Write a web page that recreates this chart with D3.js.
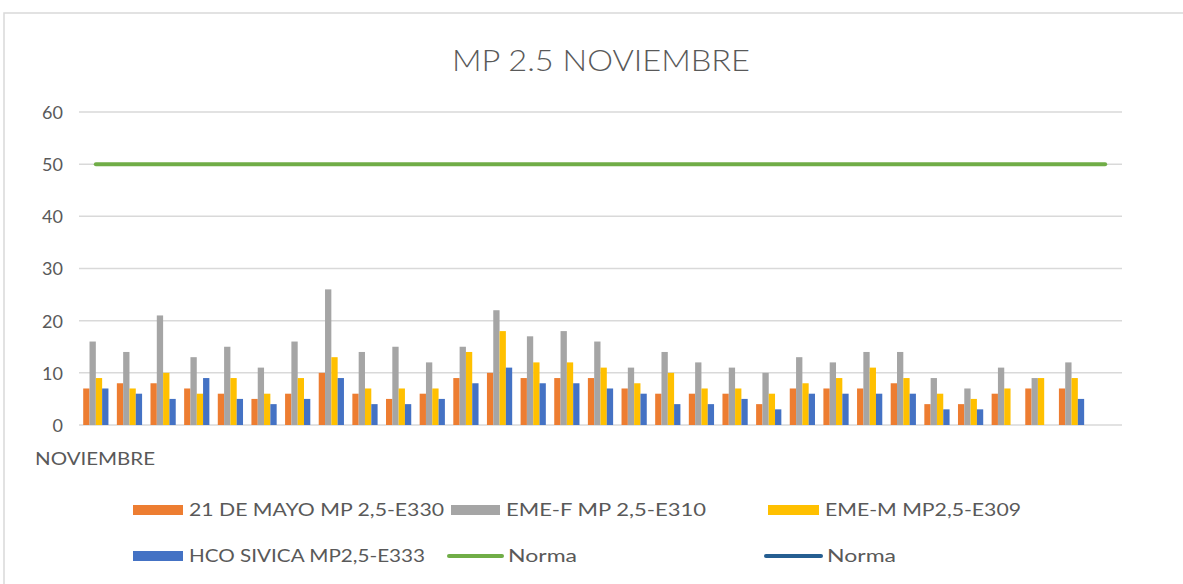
<!DOCTYPE html>
<html>
  <head>
    <meta charset="utf-8" />
    <script src="https://d3js.org/d3.v7.min.js"></script>
    <style>
        body {margin: 0; background: #fff;}
        text {font-family: Lato, "Open Sans", sans-serif;}
    </style>
  </head>
  <body>
    <svg id="viz"></svg>
    <script>
        var width = 1183
        var height = 584

        // days of november (31st slot is empty in the original sheet)
        var days = d3.range(1, 32)

        var mayo  = [7, 8, 8, 7, 6, 5, 6, 10, 6, 5, 6, 9, 10, 9, 9, 9, 7, 6, 6, 6, 4, 7, 7, 7, 8, 4, 4, 6, 7, 7, null]
        var emeF  = [16, 14, 21, 13, 15, 11, 16, 26, 14, 15, 12, 15, 22, 17, 18, 16, 11, 14, 12, 11, 10, 13, 12, 14, 14, 9, 7, 11, 9, 12, null]
        var emeM  = [9, 7, 10, 6, 9, 6, 9, 13, 7, 7, 7, 14, 18, 12, 12, 11, 8, 10, 7, 7, 6, 8, 9, 11, 9, 6, 5, 7, 9, 9, null]
        var sivica = [7, 6, 5, 9, 5, 4, 5, 9, 4, 4, 5, 8, 11, 8, 8, 7, 6, 4, 4, 5, 3, 6, 6, 6, 6, 3, 3, null, null, 5, null]
        var norma = 50

        var seriesNames = ["21 DE MAYO MP 2,5-E330", "EME-F  MP 2,5-E310", "EME-M MP2,5-E309", "HCO SIVICA MP2,5-E333"]
        var seriesColors = ["#ED7D31", "#A5A5A5", "#FFC000", "#4472C4"]
        var series = [mayo, emeF, emeM, sivica]
        var yTicks = [0, 10, 20, 30, 40, 50, 60]

        var svg = d3.select("#viz")
            .attr("width", width)
            .attr("height", height)

        // chart frame
        svg.append("rect")
            .attr("x", 4).attr("y", 13)
            .attr("width", width + 10).attr("height", height + 10)
            .attr("fill", "none")
            .attr("stroke", "#d9d9d9")
            .attr("stroke-width", 1.5)

        svg.append("text")
            .attr("x", 601).attr("y", 71)
            .attr("text-anchor", "middle")
            .attr("font-size", 30)
            .attr("font-weight", 300)
            .attr("fill", "#595959")
            .attr("textLength", 298)
            .attr("lengthAdjust", "spacingAndGlyphs")
            .text("MP 2.5 NOVIEMBRE")

        var plotLeft = 79, plotRight = 1122, plotTop = 112, plotBottom = 425

        var x = d3.scaleBand()
            .domain(days)
            .range([plotLeft, plotRight])
            .paddingInner(0.25)
            .paddingOuter(0.125)

        var xs = d3.scaleBand()
            .domain(d3.range(series.length))
            .range([0, x.bandwidth()])

        var y = d3.scaleLinear()
            .domain([0, 60])
            .range([plotBottom, plotTop])

        // gridlines
        svg.append("g").selectAll("line")
            .data(yTicks)
            .enter().append("line")
            .attr("x1", plotLeft).attr("x2", plotRight)
            .attr("y1", function(d) { return y(d) })
            .attr("y2", function(d) { return y(d) })
            .attr("stroke", "#d9d9d9")
            .attr("stroke-width", 1.5)

        var yAxis = svg.append("g")
            .attr("transform", "translate(" + (plotLeft - 16) + ",0)")
            .call(d3.axisLeft(y).tickValues(yTicks).tickSize(0).tickPadding(0))
        yAxis.select(".domain").remove()
        yAxis.selectAll("text")
            .attr("font-size", 18)
            .attr("fill", "#595959")
            .attr("dy", "0.36em")
            .style("font-family", "Lato, 'Open Sans', sans-serif")

        // bars
        var groups = svg.append("g").selectAll("g")
            .data(days)
            .enter().append("g")
            .attr("transform", function(d) { return "translate(" + x(d) + ",0)" })

        groups.selectAll("rect")
            .data(function(d, i) {
                return series.map(function(s, k) { return {k: k, v: s[i]} })
                    .filter(function(e) { return e.v != null })
            })
            .enter().append("rect")
            .attr("x", function(d) { return xs(d.k) })
            .attr("width", xs.bandwidth())
            .attr("y", function(d) { return y(d.v) })
            .attr("height", function(d) { return y(0) - y(d.v) })
            .attr("fill", function(d) { return seriesColors[d.k] })

        // norma line
        var line = d3.line()
            .x(function(d) { return x(d) + x.bandwidth() / 2 })
            .y(function() { return y(norma) })
        svg.append("path")
            .datum(days)
            .attr("d", line)
            .attr("fill", "none")
            .attr("stroke", "#70AD47")
            .attr("stroke-width", 4)
            .attr("stroke-linecap", "round")

        svg.append("text")
            .attr("x", 35).attr("y", 465)
            .attr("font-size", 17)
            .attr("fill", "#595959")
            .attr("textLength", 120)
            .attr("lengthAdjust", "spacingAndGlyphs")
            .text("NOVIEMBRE")

        // legend
        var legend = [
            {name: seriesNames[0], color: seriesColors[0], type: "bar", x: 133, y: 510, w: 50, tw: 255},
            {name: seriesNames[1], color: seriesColors[1], type: "bar", x: 451, y: 510, w: 49, tw: 200},
            {name: seriesNames[2], color: seriesColors[2], type: "bar", x: 768, y: 510, w: 51, tw: 196},
            {name: seriesNames[3], color: seriesColors[3], type: "bar", x: 133, y: 556, w: 50, tw: 236},
            {name: "Norma", color: "#70AD47", type: "line", x: 449, y: 556, w: 53, tw: 69},
            {name: "Norma", color: "#255E91", type: "line", x: 766, y: 556, w: 55, tw: 69}
        ]
        var items = svg.append("g").selectAll("g")
            .data(legend)
            .enter().append("g")
        items.filter(function(d) { return d.type == "bar" }).append("rect")
            .attr("x", function(d) { return d.x })
            .attr("y", function(d) { return d.y - 5 })
            .attr("width", function(d) { return d.w })
            .attr("height", 10)
            .attr("fill", function(d) { return d.color })
        items.filter(function(d) { return d.type == "line" }).append("line")
            .attr("x1", function(d) { return d.x })
            .attr("x2", function(d) { return d.x + d.w })
            .attr("y1", function(d) { return d.y })
            .attr("y2", function(d) { return d.y })
            .attr("stroke", function(d) { return d.color })
            .attr("stroke-width", 4)
            .attr("stroke-linecap", "round")
        items.append("text")
            .attr("x", function(d) { return d.x + d.w + 6 })
            .attr("y", function(d) { return d.y + 6 })
            .attr("font-size", 18)
            .attr("fill", "#595959")
            .attr("textLength", function(d) { return d.tw })
            .attr("lengthAdjust", "spacingAndGlyphs")
            .text(function(d) { return d.name })
    </script>
  </body>
</html>
